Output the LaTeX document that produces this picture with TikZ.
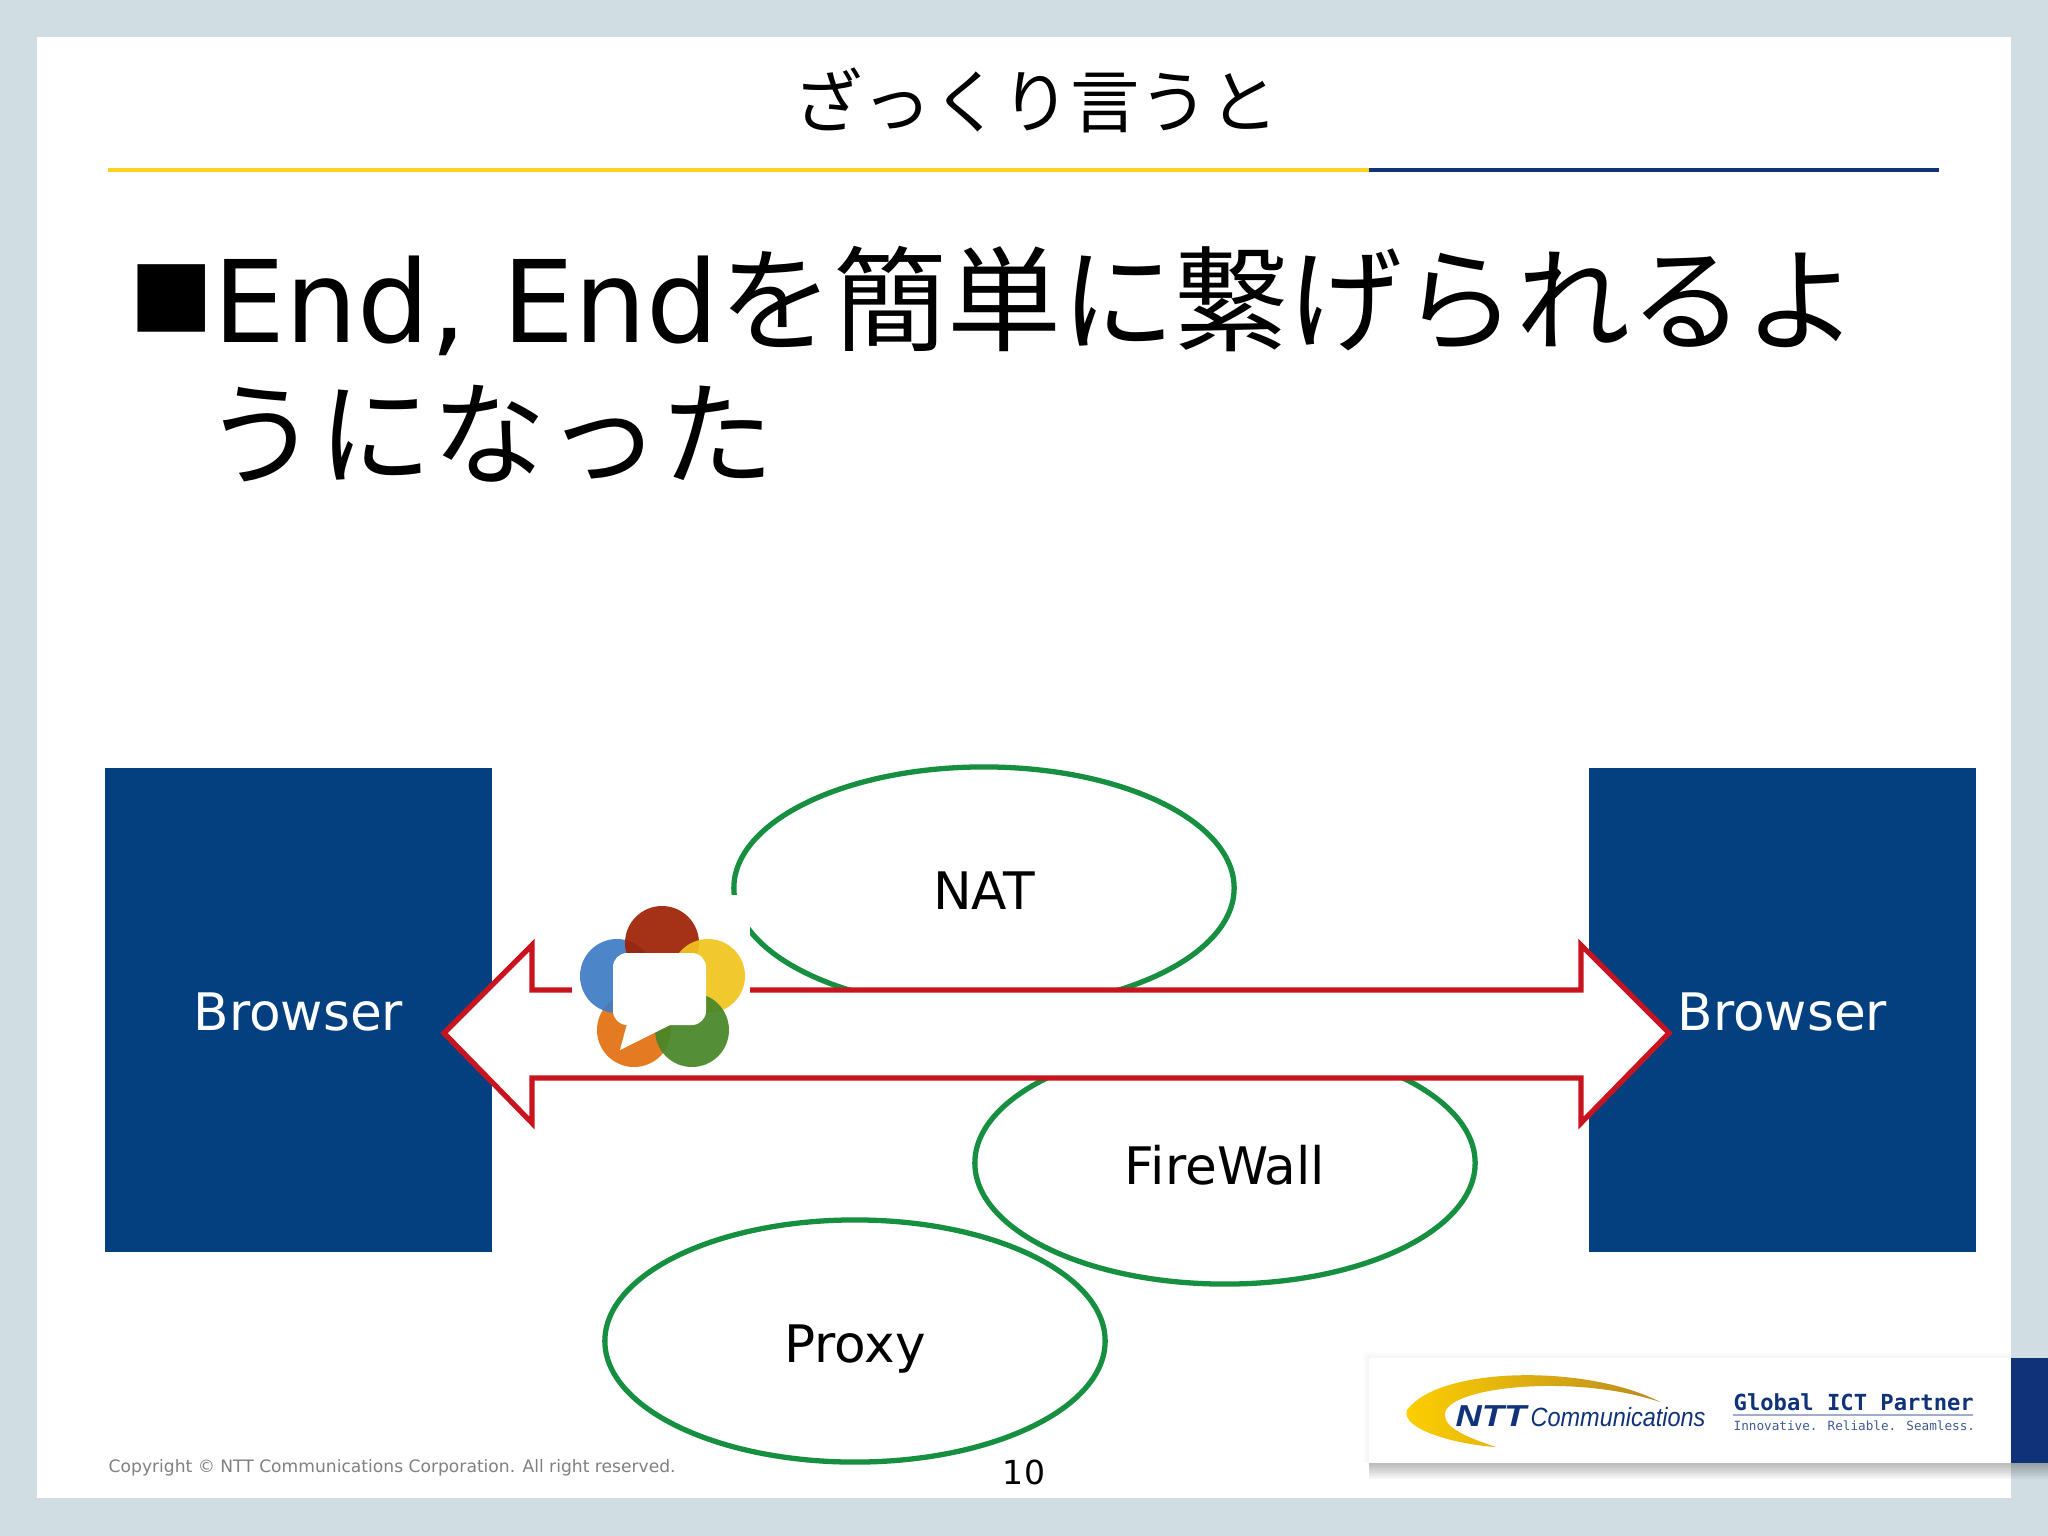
\documentclass[tikz,border=0pt]{standalone}
\usepackage{fontspec}
\setmainfont{DejaVu Sans}
\newfontfamily\jpfont{Noto Sans CJK JP}
\newfontfamily\logofont{Liberation Sans}
\newfontfamily\partnerfont{DejaVu Sans Mono}
\usetikzlibrary{shapes.geometric}
\definecolor{slidebg}{HTML}{D0DDE3}
\definecolor{boxblue}{HTML}{04407F}
\definecolor{barblue}{HTML}{0F3278}
\definecolor{ringgreen}{HTML}{169040}
\definecolor{arrowred}{HTML}{C8141E}
\definecolor{ruleyellow}{HTML}{FFD21E}
\definecolor{swooshlight}{HTML}{FFD000}
\definecolor{swooshdark}{HTML}{B98A20}
\tikzset{
  browser/.style={fill=boxblue,text=white,minimum width=3.87cm,minimum height=4.84cm,inner sep=0pt,text height=13.9pt,text depth=1.9pt,font=\fontsize{14.7pt}{16pt}\selectfont},
  ring/.style={ellipse,draw=ringgreen,line width=1.5pt,minimum width=5cm,minimum height=2.42cm,inner sep=0pt,text height=13.9pt,text depth=1.9pt,font=\fontsize{14.7pt}{16pt}\selectfont},
  bigline/.style={anchor=base west,inner sep=0pt,font=\fontsize{32.4pt}{34pt}\selectfont},
  petal/.style={fill opacity=0.92}
}
\begin{document}
\begin{tikzpicture}[x=0.01cm,y=-0.01cm,line join=miter]
\useasboundingbox (0,0) rectangle (2048,1536);
% nền và thẻ trắng
\fill[slidebg] (0,0) rectangle (2048,1536);
\fill[white] (37,37) rectangle (2011,1498);
% tiêu đề
\node[inner sep=0pt,font=\jpfont\fontsize{19.7pt}{21pt}\selectfont] (title) at (1036,100) {ざっくり言うと};
\draw[ruleyellow,line width=1.4pt] (108,170)--(1369,170);
\draw[barblue,line width=1.4pt] (1369,170)--(1939,170);
% dòng chữ lớn
\node[anchor=base west,inner sep=0pt,font=\jpfont\fontsize{24pt}{26pt}\selectfont] (bullet) at (129,330) {■};
\node[bigline] (lineone) at (213,342) {End, End{\jpfont を簡単に繋げられるよ}};
\node[bigline] (linetwo) at (204,476) {\jpfont うになった};
% hai hộp và ba vòng
\node[browser,anchor=north west] (left) at (104,767) {Browser};
\node[browser,anchor=north west] (right) at (1588,767) {Browser};
\node[ring] (nat) at (984,888) {NAT};
\node[ring] (firewall) at (1225,1163) {FireWall};
\node[ring] (proxy) at (855,1341) {Proxy};
% mũi tên hai đầu
\draw[arrowred,fill=white,line width=1.5pt] (444,1033)--(532,945)--(532,990)--(1581,990)--(1581,945)--(1669,1033)--(1581,1123)--(1581,1078)--(532,1078)--(532,1123)--cycle;
% biểu tượng
\fill[white] (572,895) rectangle (750,1072);
\fill[petal,fill={rgb,255:red,226;green,112;blue,16}] (634,1030) circle (37);
\fill[petal,fill={rgb,255:red,62;green,124;blue,196}] (617,976) circle (37);
\fill[petal,fill={rgb,255:red,158;green,32;blue,4}] (662,943) circle (37);
\fill[petal,fill={rgb,255:red,241;green,196;blue,30}] (708,976) circle (37);
\fill[petal,fill={rgb,255:red,70;green,134;blue,40}] (692,1030) circle (37);
\fill[white,rounded corners=4] (613,953) rectangle (706,1025);
\fill[white] (628,1020)--(620,1050)--(670,1025)--(670,1020)--cycle;
% chân trang
\node[anchor=west,inner sep=0pt,text=black!50,font=\fontsize{4.87pt}{6pt}\selectfont] (copy) at (108,1468) {Copyright © NTT Communications Corporation. All right reserved.};
\node[inner sep=0pt,font=\fontsize{9.4pt}{11pt}\selectfont] (page) at (1024,1472) {10};
% bóng của dải logo
\foreach \d in {2,4,...,16}
\fill[black,opacity=0.035] (1369,1463) rectangle (2048,1463+\d);
\foreach \d in {2,4,6}
\fill[black,opacity=0.012] (1369-\d,1358-\d) rectangle (2011,1463);
\fill[white] (1369,1358) rectangle (2011,1463);
\fill[barblue] (2011,1358) rectangle (2048,1463);
% logo
\shade[left color=swooshlight,right color=swooshdark] (1660,1402) .. controls (1590,1365) and (1440,1365) .. (1407,1410) .. controls (1400,1430) and (1460,1445) .. (1496,1447) .. controls (1460,1435) and (1440,1425) .. (1446,1410) .. controls (1460,1385) and (1580,1375) .. (1660,1402)--cycle;
\node[inner sep=0pt,text=barblue,xscale=1.2,font=\logofont\bfseries\itshape\fontsize{8.6pt}{10pt}\selectfont] (ntt) at (1491,1416) {NTT};
\node[anchor=west,inner sep=0pt,text=barblue,xscale=0.89,font=\logofont\itshape\fontsize{7.5pt}{9pt}\selectfont] (comm) at (1530,1417) {Communications};
\node[anchor=west,inner sep=0pt,text=barblue,font=\partnerfont\bfseries\fontsize{6.3pt}{8pt}\selectfont] (partner) at (1733,1402) {Global ICT Partner};
\draw[barblue!40,line width=0.5pt] (1733,1415)--(1973,1415);
\node[anchor=west,inner sep=0pt,text=barblue!80,font=\partnerfont\fontsize{3.6pt}{5pt}\selectfont] (slogan) at (1733,1426) {Innovative. Reliable. Seamless.};
\end{tikzpicture}
\end{document}
